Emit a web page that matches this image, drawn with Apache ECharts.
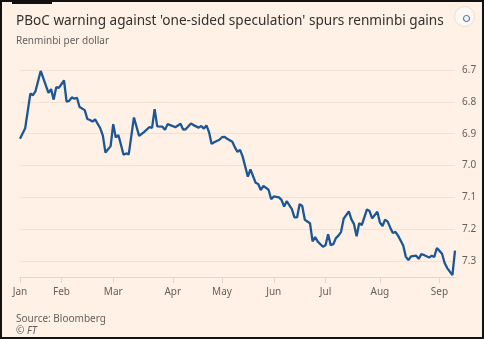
<!DOCTYPE html>
<html><head><meta charset="utf-8">
<script src="https://cdn.jsdelivr.net/npm/echarts@6/dist/echarts.min.js"></script>
<style>
html,body{margin:0;padding:0;background:#fff1e5;}
#c{width:484px;height:339px;position:absolute;left:0;top:0;}
#frame{position:absolute;left:0;top:0;width:480px;height:335px;border:2px solid #111;pointer-events:none;}
</style></head><body>
<div id="c"></div><div id="frame"></div>
<script>
// trading-day index (0 = first trading day of January)
const dayIndex = [0,2,4,5,6,8,11,12,13,14,15,17,18,19,20,21,22,23,25,26,27,28,29,31,32,33,35,36,37,38,40,41,42,44,46,48,50,51,52,53,55,56,57,59,60,62,63,64,66,67,68,69,70,71,72,73,74,75,77,78,79,80,82,83,84,85,86,88,89,91,92,93,94,96,97,98,100,101,102,103,105,106,107,108,109,110,112,113,114,115,117,118,119,120,121,122,123,124,125,127,128,129,130,131,132,134,135,136,138,139,140,141,142,143,144,145,146,148,149,150,151,153,154,155,156,158,159,160,161,162,163,164,165,167,168];
// renminbi per dollar
const rate = [6.916,6.883,6.774,6.779,6.766,6.703,6.772,6.760,6.793,6.754,6.756,6.733,6.799,6.797,6.786,6.790,6.787,6.816,6.826,6.854,6.857,6.862,6.855,6.883,6.906,6.959,6.939,6.870,6.912,6.904,6.966,6.962,6.965,6.849,6.907,6.894,6.879,6.882,6.823,6.877,6.878,6.888,6.870,6.876,6.880,6.869,6.887,6.886,6.868,6.873,6.877,6.881,6.876,6.884,6.874,6.895,6.932,6.927,6.919,6.911,6.910,6.916,6.925,6.943,6.957,6.951,6.972,7.035,7.012,7.054,7.058,7.077,7.064,7.076,7.106,7.097,7.100,7.108,7.129,7.112,7.137,7.163,7.163,7.121,7.127,7.170,7.181,7.238,7.225,7.239,7.255,7.250,7.216,7.250,7.247,7.228,7.220,7.208,7.167,7.144,7.169,7.184,7.222,7.181,7.187,7.138,7.143,7.166,7.145,7.179,7.190,7.170,7.176,7.195,7.212,7.208,7.220,7.251,7.286,7.297,7.285,7.283,7.293,7.278,7.281,7.289,7.283,7.287,7.259,7.268,7.277,7.306,7.322,7.344,7.267];
// month tick positions (trading-day index) and labels
const monthTicks = [0,16,36,59,78,98,118,139,162];
const monthLabels = ['Jan','Feb','Mar','Apr','May','Jun','Jul','Aug','Sep'];
const yTicks = [6.7,6.8,6.9,7.0,7.1,7.2,7.3];

const chart = echarts.init(document.getElementById('c'), null, {renderer:'canvas'});
const seriesData = dayIndex.map((d,i)=>[d, rate[i]]);
const font = "'Noto Sans', 'Open Sans', sans-serif";
chart.setOption({
  backgroundColor:'#fff1e5',
  animation:false,
  title:[
    {text:"PBoC warning against 'one-sided speculation' spurs renminbi gains", left:11, top:9,
     textStyle:{fontFamily:font, fontSize:13.6, fontWeight:'normal', color:'#33302e'}},
    {text:'Renminbi per dollar', left:11, top:31,
     textStyle:{fontFamily:font, fontSize:10, fontWeight:'normal', color:'#66605c'}},
    {text:'Source: Bloomberg', left:11, top:309,
     textStyle:{fontFamily:font, fontSize:10, fontWeight:'normal', color:'#66605c'}},
    {text:'© FT', left:11, top:321,
     textStyle:{fontFamily:font, fontSize:10, fontStyle:'italic', fontWeight:'normal', color:'#66605c'}}
  ],
  graphic:[
    {type:'rect', left:12, top:0, shape:{width:40,height:4}, style:{fill:'#111'}},
    {type:'circle', left:454, top:6, shape:{r:10}, style:{fill:'#fdf8f3', stroke:'#eadfd4', lineWidth:1}},
    {type:'circle', left:461, top:13, shape:{r:3}, style:{fill:'none', stroke:'#5a7fb3', lineWidth:1.2}}
  ],
  grid:{left:20, right:29, top:70, bottom:62, containLabel:false},
  xAxis:{
    type:'value', min:0, max:168,
    axisLine:{show:true, lineStyle:{color:'#e3d5c8', width:1}},
    axisTick:{show:true, customValues:monthTicks, length:6, lineStyle:{color:'#e3d5c8'}},
    axisLabel:{show:true, customValues:monthTicks, margin:10, color:'#66605c', fontFamily:font, fontSize:10,
      formatter:(v)=>{const i=monthTicks.indexOf(Math.round(v)); return i>=0?monthLabels[i]:'';}},
    splitLine:{show:false}
  },
  yAxis:{
    type:'value', inverse:true, min:6.7, max:7.35, interval:0.1, position:'right',
    axisLine:{show:false}, axisTick:{show:false},
    axisLabel:{margin:7, color:'#66605c', fontFamily:font, fontSize:10,
      formatter:(v)=>{const m=yTicks.find(t=>Math.abs(t-v)<1e-6); return m!==undefined?m.toFixed(1):'';}},
    splitLine:{show:true, lineStyle:{color:'#f3e2d3', width:1}}
  },
  series:[{
    type:'line', data:seriesData, showSymbol:false, clip:false,
    lineStyle:{color:'#1b5796', width:2.3}, itemStyle:{color:'#1b5796'}
  }]
});
</script></body></html>
